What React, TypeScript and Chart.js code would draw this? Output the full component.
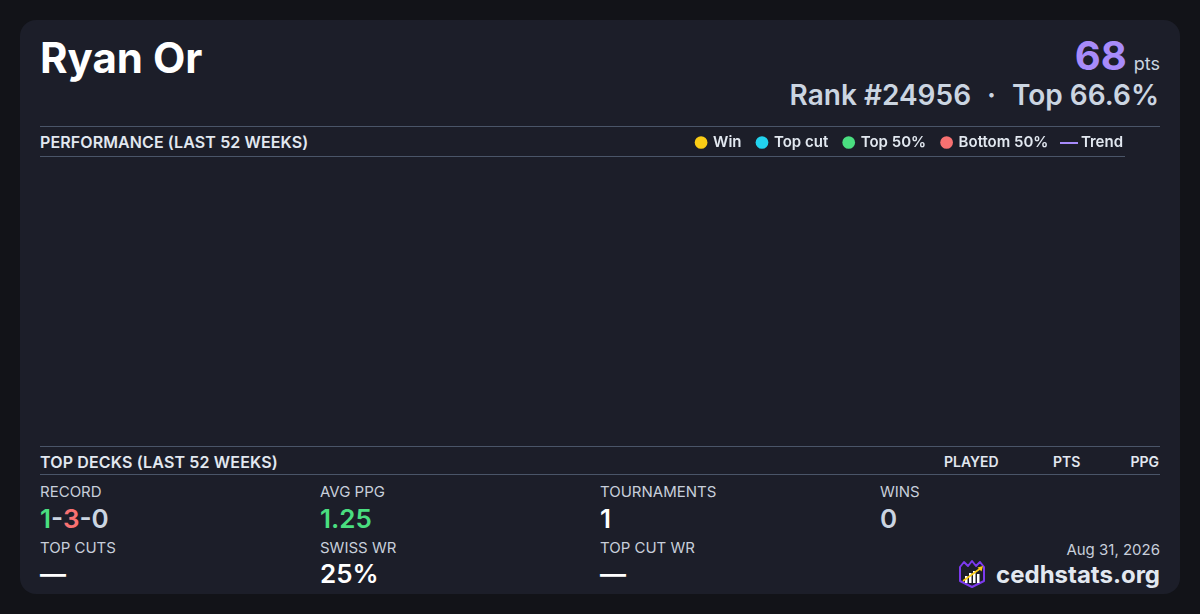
import React, { useEffect, useRef } from 'react';
import { Chart, registerables } from 'chart.js';

Chart.register(...registerables);

// ---- data ----
const playerName = 'Ryan Or';
const points = 68;
const rankText = 'Rank #24956';
const topPercentText = 'Top 66.6%';
const chartTitle = 'PERFORMANCE (LAST 52 WEEKS)';
const decksTitle = 'TOP DECKS (LAST 52 WEEKS)';
const deckColumns = ['PLAYED', 'PTS', 'PPG'];

const seriesNames = ['Win', 'Top cut', 'Top 50%', 'Bottom 50%', 'Trend'];
const seriesColors = ['#facc15', '#22d3ee', '#4ade80', '#f87171', '#a78bfa'];
// no results fall inside the last 52 weeks -> every series is empty
const winPoints: { x: number; y: number }[] = [];
const topCutPoints: { x: number; y: number }[] = [];
const top50Points: { x: number; y: number }[] = [];
const bottom50Points: { x: number; y: number }[] = [];
const trendPoints: { x: number; y: number }[] = [];

const recordWins = 1;
const recordLosses = 3;
const recordDraws = 0;
const avgPpg = '1.25';
const tournaments = '1';
const wins = '0';
const topCuts = '—';
const swissWr = '25%';
const topCutWr = '—';
const dateText = 'Aug 31, 2026';
const siteText = 'cedhstats.org';

const FONT = 'Inter, "Noto Sans", sans-serif';
const LINE = '#4a5568';
const LABEL = '#c8cfdb';
const HEAD = '#e2e8f0';

const abs = (s: React.CSSProperties): React.CSSProperties => ({ position: 'absolute', whiteSpace: 'nowrap', ...s });

function Logo() {
  return (
    <svg width="30" height="30" viewBox="0 0 30 30" style={abs({ left: 957, top: 559 })}>
      <path d="M3 8 L7 3 L11 7 L15 2 L19 7 L23 3 L27 8 L27 22 L15 28 L3 22 Z" fill="#1c1e28" stroke="#7c3aed" strokeWidth="2" strokeLinejoin="round" />
      <rect x="8" y="17" width="2.5" height="7" fill="#fff" />
      <rect x="12" y="14" width="2.5" height="10" fill="#fff" />
      <rect x="16" y="12" width="2.5" height="12" fill="#fff" />
      <rect x="20" y="15" width="2.5" height="9" fill="#fff" />
      <path d="M6 22 L24 9" stroke="#facc15" strokeWidth="1.6" />
      <path d="M20.5 8.5 L26 7 L24.5 12.5 Z" fill="#facc15" />
    </svg>
  );
}

export default function App() {
  const canvasRef = useRef<HTMLCanvasElement | null>(null);

  useEffect(() => {
    if (!canvasRef.current) return;
    const swatch = document.createElement('canvas');
    swatch.width = 18;
    swatch.height = 2;
    const sctx = swatch.getContext('2d');
    if (sctx) {
      sctx.fillStyle = seriesColors[4];
      sctx.fillRect(0, 0, 18, 2);
    }
    const pointSeries = [winPoints, topCutPoints, top50Points, bottom50Points];
    const datasets: any[] = pointSeries.map((d, i) => ({
      type: 'scatter',
      label: seriesNames[i],
      data: d,
      backgroundColor: seriesColors[i],
      borderColor: seriesColors[i],
      borderWidth: 0,
      pointStyle: 'circle',
      pointRadius: 5,
    }));
    datasets.push({
      type: 'line',
      label: seriesNames[4],
      data: trendPoints,
      borderColor: seriesColors[4],
      backgroundColor: seriesColors[4],
      borderWidth: 2,
      pointRadius: 0,
    });
    const chart = new Chart(canvasRef.current, {
      type: 'scatter',
      data: { datasets },
      options: {
        animation: false,
        responsive: true,
        maintainAspectRatio: false,
        layout: { padding: 0 },
        scales: {
          x: { type: 'linear', display: false, min: 0, max: 52 },
          y: { type: 'linear', display: false, min: 0, max: 100 },
        },
        plugins: {
          tooltip: { enabled: false },
          legend: {
            position: 'top',
            align: 'end',
            labels: {
              usePointStyle: true,
              boxWidth: 9,
              boxHeight: 9,
              padding: 16,
              color: HEAD,
              font: { family: FONT, size: 15, weight: '600' } as any,
              generateLabels: (c: any) => {
                const items = (Chart.defaults.plugins.legend.labels as any).generateLabels(c);
                return items.map((it: any) =>
                  it.text === seriesNames[4]
                    ? { ...it, pointStyle: swatch, lineWidth: 0 }
                    : { ...it, pointStyle: 'circle', lineWidth: 0 }
                );
              },
            },
          },
        },
      } as any,
    });
    return () => chart.destroy();
  }, []);

  const valueStyle = (left: number, top: number, color: string): React.CSSProperties =>
    abs({ left, top, fontSize: 26, lineHeight: '26px', fontWeight: 600, color });
  const labelStyle = (left: number, top: number): React.CSSProperties =>
    abs({ left, top, fontSize: 15, lineHeight: '15px', fontWeight: 400, color: LABEL });

  return (
    <div style={{ position: 'fixed', inset: 0, background: '#121318', fontFamily: FONT, overflow: 'hidden' }}>
      <div style={abs({ left: 20, top: 20, width: 1160, height: 574, borderRadius: 16, background: '#1c1e29' })} />

      <div style={abs({ left: 40, top: 37, fontSize: 42, lineHeight: '42px', fontWeight: 700, color: '#ffffff' })}>{playerName}</div>

      <div style={abs({ right: 40, top: 35.5, fontSize: 40, lineHeight: '40px', color: '#a78bfa' })}>
        <span style={{ fontWeight: 700, lineHeight: '40px' }}>{points}</span>
        <span style={{ fontSize: 18, fontWeight: 400, color: '#cbd5e1', marginLeft: 7, lineHeight: '40px' }}>pts</span>
      </div>

      <div style={abs({ right: 41, top: 81, fontSize: 28, lineHeight: '28px', fontWeight: 600, color: '#cbd5e1' })}>
        {rankText}
        <span style={{ margin: '0 16px' }}>·</span>
        {topPercentText}
      </div>

      <div style={abs({ left: 40, top: 126, width: 1120, height: 1, background: LINE })} />
      <div style={abs({ left: 40, top: 134, fontSize: 16, lineHeight: '16px', fontWeight: 600, letterSpacing: 0.1, color: HEAD })}>{chartTitle}</div>
      <div style={abs({ left: 40, top: 156, width: 1085, height: 1, background: LINE })} />

      <div style={abs({ left: 40, top: 119, width: 1099, height: 327 })}>
        <canvas ref={canvasRef} />
      </div>

      <div style={abs({ left: 40, top: 446, width: 1120, height: 1, background: LINE })} />
      <div style={abs({ left: 40, top: 454, fontSize: 16, lineHeight: '16px', fontWeight: 600, letterSpacing: 0.15, color: HEAD })}>{decksTitle}</div>
      <div style={abs({ left: 944, top: 455, fontSize: 14, lineHeight: '14px', fontWeight: 600, color: HEAD })}>{deckColumns[0]}</div>
      <div style={abs({ left: 1053, top: 455, fontSize: 14, lineHeight: '14px', fontWeight: 600, color: HEAD })}>{deckColumns[1]}</div>
      <div style={abs({ right: 41, top: 455, fontSize: 14, lineHeight: '14px', fontWeight: 600, color: HEAD })}>{deckColumns[2]}</div>
      <div style={abs({ left: 40, top: 474, width: 1120, height: 1, background: LINE })} />

      <div style={labelStyle(40, 484)}>RECORD</div>
      <div style={valueStyle(40, 505.5, '#cbd5e1')}>
        <span style={{ color: '#4ade80' }}>{recordWins}</span>-
        <span style={{ color: '#f87171' }}>{recordLosses}</span>-
        <span>{recordDraws}</span>
      </div>
      <div style={labelStyle(320, 484)}>AVG PPG</div>
      <div style={valueStyle(320, 505.5, '#4ade80')}>{avgPpg}</div>
      <div style={labelStyle(600, 484)}>TOURNAMENTS</div>
      <div style={valueStyle(600, 505.5, '#ffffff')}>{tournaments}</div>
      <div style={labelStyle(880, 484)}>WINS</div>
      <div style={valueStyle(880, 505.5, '#cbd5e1')}>{wins}</div>

      <div style={labelStyle(40, 540)}>TOP CUTS</div>
      <div style={valueStyle(40, 560.5, '#ffffff')}>{topCuts}</div>
      <div style={labelStyle(320, 540)}>SWISS WR</div>
      <div style={valueStyle(320, 560.5, '#ffffff')}>{swissWr}</div>
      <div style={labelStyle(600, 540)}>TOP CUT WR</div>
      <div style={valueStyle(600, 560.5, '#ffffff')}>{topCutWr}</div>

      <div style={abs({ right: 40, top: 542, fontSize: 15, lineHeight: '15px', fontWeight: 400, color: LABEL })}>{dateText}</div>
      <Logo />
      <div style={abs({ right: 40, top: 563, fontSize: 24, lineHeight: '24px', fontWeight: 700, color: HEAD })}>{siteText}</div>
    </div>
  );
}
